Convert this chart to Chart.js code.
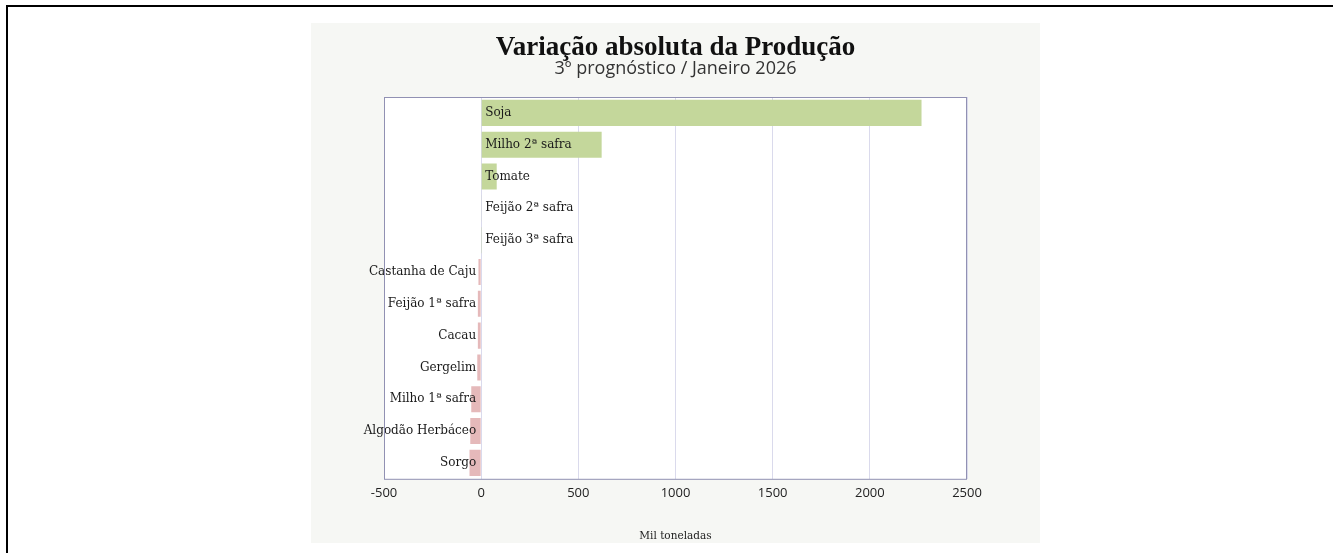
<!DOCTYPE html>
<html>
<head>
<meta charset="utf-8">
<script src="https://cdn.jsdelivr.net/npm/chart.js@4.4.1/dist/chart.umd.min.js"></script>
<style>
  html, body { margin:0; padding:0; background:#fff; }
  body { width:1333px; height:553px; position:relative; overflow:hidden; }
  .frame { position:absolute; left:6px; top:5px; right:-10px; bottom:-10px; border-top:2px solid #000; border-left:2px solid #000; }
  .panel { position:absolute; left:311px; top:23px; width:729px; height:520px; background:#f6f7f4; }
</style>
</head>
<body>
<div class="frame"></div>
<div class="panel"><canvas id="varChart"></canvas></div>
<script>
// ===== DATA =====
const categories = ['Soja', 'Milho 2ª safra', 'Tomate', 'Feijão 2ª safra', 'Feijão 3ª safra',
  'Castanha de Caju', 'Feijão 1ª safra', 'Cacau', 'Gergelim', 'Milho 1ª safra',
  'Algodão Herbáceo', 'Sorgo'];
const variacao = [2266, 620, 80, 2, 1, -14, -17, -17, -20, -51, -56, -60];
const xTicks = [-500, 0, 500, 1000, 1500, 2000, 2500];

const GREEN = '#c4d79b';
const PINK = '#e5b9ba';

// labels next to the zero line, left for negatives, right for positives
const barLabels = {
  id: 'barLabels',
  afterDatasetsDraw(chart) {
    const ctx = chart.ctx;
    const x0 = chart.scales.x.getPixelForValue(0);
    const meta = chart.getDatasetMeta(0);
    ctx.save();
    ctx.font = '12px "DejaVu Serif"';
    ctx.fillStyle = '#1a1a1a';
    ctx.textBaseline = 'middle';
    meta.data.forEach((bar, i) => {
      if (variacao[i] >= 0) {
        ctx.textAlign = 'left';
        ctx.fillText(categories[i], x0 + 4, bar.y);
      } else {
        ctx.textAlign = 'right';
        ctx.fillText(categories[i], x0 - 5, bar.y);
      }
    });
    ctx.restore();
  }
};

// plot frame + white plot background
const plotFrame = {
  id: 'plotFrame',
  beforeDraw(chart) {
    const a = chart.chartArea;
    chart.ctx.save();
    chart.ctx.fillStyle = '#ffffff';
    chart.ctx.fillRect(a.left, a.top, a.right - a.left, a.bottom - a.top);
    chart.ctx.restore();
  },
  afterDraw(chart) {
    const a = chart.chartArea;
    const ctx = chart.ctx;
    ctx.save();
    ctx.strokeStyle = '#9191b3';
    ctx.lineWidth = 1;
    ctx.strokeRect(a.left + 0.5, a.top + 0.5, a.right - a.left - 1, a.bottom - a.top);
    ctx.restore();
  }
};

new Chart(document.getElementById('varChart').getContext('2d'), {
  type: 'bar',
  data: {
    labels: categories,
    datasets: [{
      label: 'Variação',
      data: variacao,
      backgroundColor: variacao.map(v => v >= 0 ? GREEN : PINK),
      borderWidth: 0,
      categoryPercentage: 1,
      barPercentage: 0.82
    }]
  },
  options: {
    indexAxis: 'y',
    responsive: true,
    maintainAspectRatio: false,
    animation: false,
    layout: { padding: { top: 12, left: 73, right: 73, bottom: 0 } },
    plugins: {
      legend: { display: false },
      tooltip: { enabled: false },
      title: {
        display: true,
        text: 'Variação absoluta da Produção',
        color: '#111',
        font: { family: '"Liberation Serif"', size: 27, weight: 'bold', lineHeight: 1.0 },
        padding: { top: 0, bottom: -2 }
      },
      subtitle: {
        display: true,
        text: '3º prognóstico / Janeiro 2026',
        color: '#333',
        font: { family: '"Open Sans"', size: 18, lineHeight: 1.0 },
        padding: { top: 0, bottom: 19 }
      }
    },
    scales: {
      x: {
        type: 'linear',
        min: xTicks[0],
        max: xTicks[xTicks.length - 1],
        afterBuildTicks: axis => { axis.ticks = xTicks.map(v => ({ value: v })); },
        grid: { color: '#dadaec', drawTicks: false },
        border: { display: false },
        ticks: {
          color: '#222', padding: 7, font: { family: '"Open Sans"', size: 13 },
          callback: v => String(v)
        },
        title: {
          display: true,
          text: 'Mil toneladas',
          color: '#222',
          font: { family: '"DejaVu Serif"', size: 10.5 },
          padding: { top: 22, bottom: 0 }
        }
      },
      y: {
        display: false
      }
    }
  },
  plugins: [plotFrame, barLabels]
});
</script>
</body>
</html>
